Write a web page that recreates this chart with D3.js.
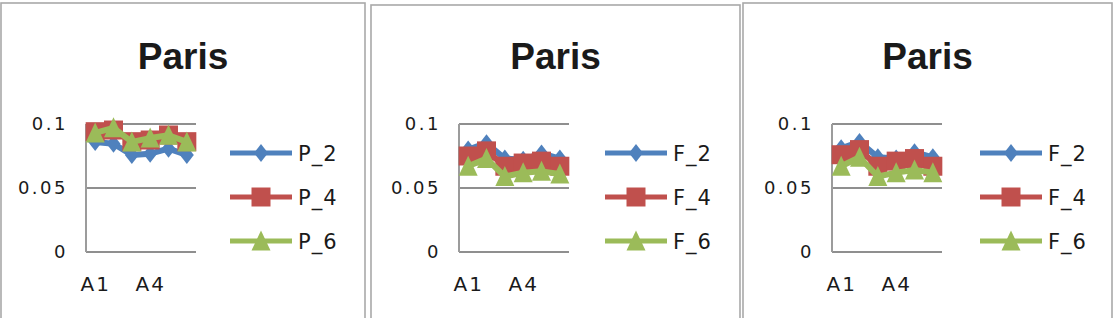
<!DOCTYPE html>
<html>
<head>
<meta charset="utf-8">
<script src="https://cdn.jsdelivr.net/npm/d3@7"></script>
<style>
  body { margin: 0; background: #fff; }
  text { fill: #1a1a1a; }
</style>
</head>
<body>
<div id="chart"></div>
<script>
// data
var categories = ["A1", "A2", "A3", "A4", "A5", "A6"];
var shownLabels = ["A1", "A4"];
var yTicks = [0, 0.05, 0.1];
var titles = ["Paris", "Paris", "Paris"];

var names1 = ["P_2", "P_4", "P_6"];
var p1_2 = [0.086, 0.0846, 0.0758, 0.0768, 0.0807, 0.0758];
var p1_4 = [0.094, 0.0953, 0.0862, 0.0875, 0.0914, 0.0862];
var p1_6 = [0.093, 0.097, 0.086, 0.089, 0.0912, 0.086];

var names2 = ["F_2", "F_4", "F_6"];
var p2_2 = [0.080, 0.085, 0.073, 0.072, 0.077, 0.073];
var p2_4 = [0.075, 0.079, 0.067, 0.0695, 0.071, 0.067];
var p2_6 = [0.067, 0.073, 0.059, 0.062, 0.063, 0.061];

var names3 = ["F_2", "F_4", "F_6"];
var p3_2 = [0.081, 0.086, 0.074, 0.073, 0.078, 0.074];
var p3_4 = [0.076, 0.080, 0.067, 0.071, 0.073, 0.067];
var p3_6 = [0.067, 0.074, 0.059, 0.062, 0.064, 0.062];

var colors = ["#4f81bd", "#c0504d", "#9bbb59"];
var markers = ["diamond", "square", "triangle"];

var w = 1119;
var h = 318;

// box position of each chart panel
var layout = [
  { left: 1, right: 365, top: 3, plotLeft: 86, legendX: 230 },
  { left: 371, right: 740, top: 5, plotLeft: 459, legendX: 605 },
  { left: 743, right: 1112, top: 3, plotLeft: 832, legendX: 980 }
];

var panels = [
  { title: titles[0], names: names1, series: [p1_2, p1_4, p1_6] },
  { title: titles[1], names: names2, series: [p2_2, p2_4, p2_6] },
  { title: titles[2], names: names3, series: [p3_2, p3_4, p3_6] }
];

var svg = d3.select("#chart")
  .append("svg")
  .attr("width", w)
  .attr("height", h);

function markerPath(type) {
  if (type === "diamond") return "M0,-9L7,0L0,9L-7,0Z";
  if (type === "square") return "M-9.5,-9.5H9.5V9.5H-9.5Z";
  return "M0,-10.5L9.5,9.5H-9.5Z";
}

function drawPanel(panel, box) {
  var g = svg.append("g");

  g.append("rect")
    .attr("x", box.left)
    .attr("y", box.top)
    .attr("width", box.right - box.left)
    .attr("height", h + 20)
    .attr("fill", "#fff")
    .attr("stroke", "#a9a9a9")
    .attr("stroke-width", 1.6);

  g.append("text")
    .attr("x", (box.left + box.right) / 2)
    .attr("y", 69)
    .attr("text-anchor", "middle")
    .style("font-family", "'Liberation Sans', Arial, sans-serif")
    .style("font-weight", "bold")
    .style("font-size", "37px")
    .text(panel.title);

  var xScale = d3.scalePoint()
    .domain(categories)
    .range([box.plotLeft, box.plotLeft + 110])
    .padding(0.5);

  var yScale = d3.scaleLinear()
    .domain([0, 0.1])
    .range([252, 124]);

  // gridlines
  g.selectAll(".grid")
    .data(yTicks)
    .enter()
    .append("line")
    .attr("x1", box.plotLeft)
    .attr("x2", box.plotLeft + 110)
    .attr("y1", function(d) { return yScale(d); })
    .attr("y2", function(d) { return yScale(d); })
    .attr("stroke", "#8f8f8f")
    .attr("stroke-width", 2);

  g.append("line")
    .attr("x1", box.plotLeft)
    .attr("x2", box.plotLeft)
    .attr("y1", yScale(0.1))
    .attr("y2", yScale(0))
    .attr("stroke", "#9c9c9c")
    .attr("stroke-width", 2);

  var yAxis = g.append("g")
    .attr("transform", "translate(" + box.plotLeft + ",0)")
    .call(d3.axisLeft(yScale)
      .tickValues(yTicks)
      .tickSize(0)
      .tickPadding(18)
      .tickFormat(function(d) { return d === 0 ? "0" : String(d); }));
  yAxis.select(".domain").remove();
  yAxis.selectAll("text")
    .style("font-family", "'DejaVu Sans', sans-serif")
    .style("font-size", "18px")
    .style("letter-spacing", "2.5px")
    .attr("fill", "#1a1a1a");

  var xAxis = g.append("g")
    .attr("transform", "translate(0," + yScale(0) + ")")
    .call(d3.axisBottom(xScale)
      .tickValues(shownLabels)
      .tickSize(0)
      .tickPadding(25));
  xAxis.select(".domain").remove();
  xAxis.selectAll("text")
    .style("font-family", "'DejaVu Sans', sans-serif")
    .style("font-size", "20px")
    .style("letter-spacing", "2px")
    .attr("fill", "#1a1a1a");

  var line = d3.line()
    .x(function(d, i) { return xScale(categories[i]); })
    .y(function(d) { return yScale(d); });

  panel.series.forEach(function(values, k) {
    g.append("path")
      .datum(values)
      .attr("d", line)
      .attr("fill", "none")
      .attr("stroke", colors[k])
      .attr("stroke-width", 6)
      .attr("stroke-linejoin", "round");

    g.selectAll(".m" + k)
      .data(values)
      .enter()
      .append("path")
      .attr("class", "m" + k)
      .attr("d", markerPath(markers[k]))
      .attr("transform", function(d, i) {
        return "translate(" + xScale(categories[i]) + "," + yScale(d) + ")";
      })
      .attr("fill", colors[k]);
  });

  // legend
  var legendRows = [153, 197, 241];
  var legend = g.selectAll(".legend-item")
    .data(panel.names)
    .enter()
    .append("g")
    .attr("class", "legend-item")
    .attr("transform", function(d, i) {
      return "translate(" + box.legendX + "," + legendRows[i] + ")";
    });

  legend.append("line")
    .attr("x1", 0)
    .attr("x2", 62)
    .attr("stroke", function(d, i) { return colors[i]; })
    .attr("stroke-width", 5);

  legend.append("path")
    .attr("d", function(d, i) { return markerPath(markers[i]); })
    .attr("transform", "translate(31,0)")
    .attr("fill", function(d, i) { return colors[i]; });

  legend.append("text")
    .attr("x", 68)
    .attr("y", 0)
    .attr("dy", "0.36em")
    .style("font-family", "'DejaVu Sans', sans-serif")
    .style("font-size", "21px")
    .style("letter-spacing", "1px")
    .text(function(d) { return d; });
}

panels.forEach(function(p, i) {
  drawPanel(p, layout[i]);
});
</script>
</body>
</html>
